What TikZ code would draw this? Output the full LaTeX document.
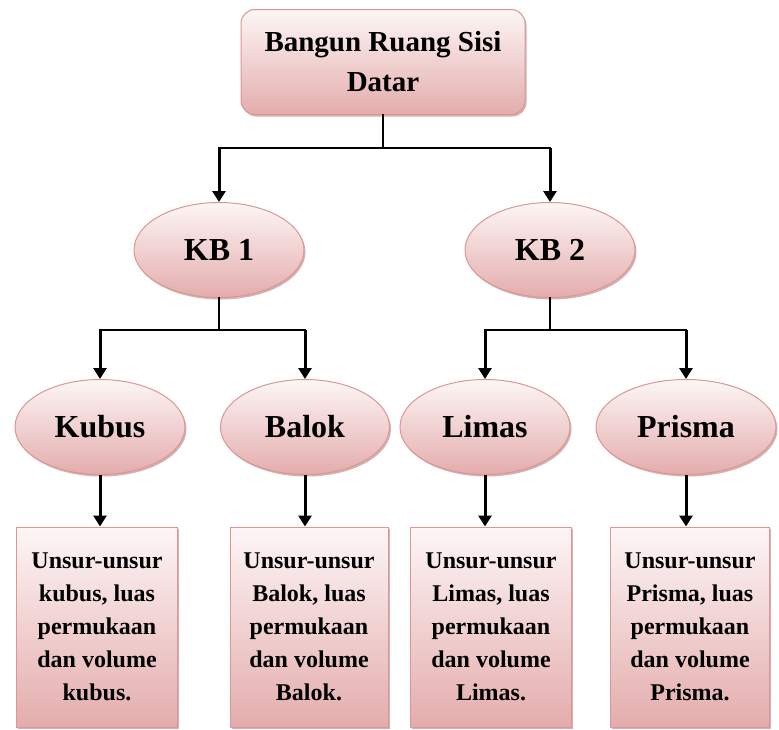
\documentclass[tikz,border=0pt]{standalone}
\usepackage{fontspec}
\setmainfont{Liberation Serif}
\usetikzlibrary{arrows.meta,shapes.geometric,shadows}
\definecolor{pinktop}{RGB}{253,246,246}
\definecolor{pinkbot}{RGB}{228,172,172}
\definecolor{pinkline}{RGB}{220,150,148}

\begin{document}
\begin{tikzpicture}[x=1pt, y=-1pt,
    base/.style={draw=pinkline, line width=1pt, top color=pinktop, bottom color=pinkbot, inner sep=0pt,
                 drop shadow={shadow xshift=1.5pt, shadow yshift=-2pt, fill=black!60!red, opacity=0.3}},
    topbox/.style={base, rectangle, rounded corners=14pt, minimum width=284pt, minimum height=105pt,
                   align=center, font=\fontsize{29}{40}\selectfont\bfseries},
    kb/.style={base, ellipse, minimum width=170pt, minimum height=95pt, font=\fontsize{32}{38}\selectfont\bfseries},
    info/.style={base, rectangle, minimum height=200pt, align=center, font=\fontsize{24}{33}\selectfont\bfseries},
    link/.style={line width=1.8pt, line cap=rect},
    arr/.style={-{Triangle[width=13pt,length=11pt]}, line width=3pt}
]
\useasboundingbox (0,0) rectangle (779,729);

\node[topbox] (top) at (383,62) {Bangun Ruang Sisi\\Datar};

\node[kb] (kb1) at (219,250) {KB 1};
\node[kb] (kb2) at (550,250) {KB 2};

\node[kb] (kubus) at (100,427) {Kubus};
\node[kb, minimum width=169pt] (balok) at (305,427) {Balok};
\node[kb] (limas) at (485,427) {Limas};
\node[kb, minimum width=180pt] (prisma) at (686,427) {Prisma};

\node[info, minimum width=161pt] (kubusinfo) at (97,627) {Unsur-unsur\\kubus, luas\\permukaan\\dan volume\\kubus.};
\node[info, minimum width=158pt] (balokinfo) at (309,627) {Unsur-unsur\\Balok, luas\\permukaan\\dan volume\\Balok.};
\node[info, minimum width=161pt] (limasinfo) at (491,627) {Unsur-unsur\\Limas, luas\\permukaan\\dan volume\\Limas.};
\node[info, minimum width=159pt] (prismainfo) at (690,627) {Unsur-unsur\\Prisma, luas\\permukaan\\dan volume\\Prisma.};

\coordinate (j0) at (383,148);
\coordinate (j1) at (219,330);
\coordinate (j2) at (550,330);

\draw[link] (top.south) -- (j0);
\draw[link] (kb1.north |- j0) -- (kb2.north |- j0);
\draw[arr] (kb1.north |- j0) -- (kb1.north);
\draw[arr] (kb2.north |- j0) -- (kb2.north);

\draw[link] (kb1.south) -- (j1);
\draw[link] (kubus.north |- j1) -- (balok.north |- j1);
\draw[arr] (kubus.north |- j1) -- (kubus.north);
\draw[arr] (balok.north |- j1) -- (balok.north);

\draw[link] (kb2.south) -- (j2);
\draw[link] (limas.north |- j2) -- (prisma.north |- j2);
\draw[arr] (limas.north |- j2) -- (limas.north);
\draw[arr] (prisma.north |- j2) -- (prisma.north);

\draw[arr] (kubus.south) -- (kubus.south |- kubusinfo.north);
\draw[arr] (balok.south) -- (balok.south |- balokinfo.north);
\draw[arr] (limas.south) -- (limas.south |- limasinfo.north);
\draw[arr] (prisma.south) -- (prisma.south |- prismainfo.north);
\end{tikzpicture}
\end{document}
